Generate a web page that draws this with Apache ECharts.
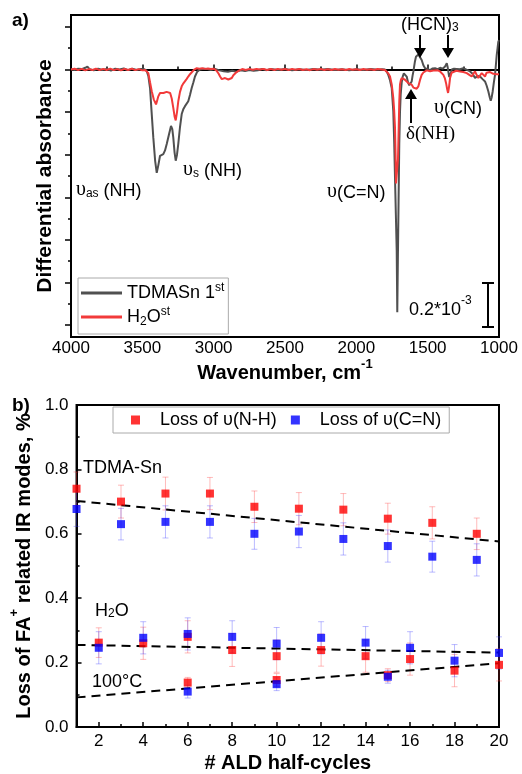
<!DOCTYPE html>
<html>
<head>
<meta charset="utf-8">
<script src="https://cdn.jsdelivr.net/npm/echarts@6/dist/echarts.min.js"></script>
<style>html,body{margin:0;padding:0;background:#fff;}#c{width:522px;height:774px;}</style>
</head>
<body>
<div id="c"></div>
<script>
// ---------- Panel a: spectra (wavenumber in cm-1, differential absorbance x1e-3) ----------
const tdmaWn = [4000,3975,3950,3925,3900,3885,3870,3840,3810,3780,3750,3720,3690,3660,3630,3600,3570,3540,3510,3485,3470,3458,3446,3435,3423,3410,3399,3388,3376,3365,3353,3341,3329,3315,3299,3290,3283,3274,3266,3257,3248,3236,3224,3212,3201,3190,3178,3166,3154,3142,3131,3115,3096,3070,3049,3020,2990,2960,2930,2900,2870,2840,2810,2780,2750,2720,2690,2660,2630,2600,2550,2500,2450,2400,2350,2300,2250,2200,2150,2100,2050,2000,1950,1900,1850,1820,1799,1787,1776,1764,1752,1741,1735,1729,1723,1717,1713,1709,1704,1699,1694,1689,1682,1675,1667,1659,1653,1647,1638,1629,1620,1612,1606,1600,1590,1582,1573,1565,1554,1542,1530,1518,1500,1483,1465,1448,1430,1413,1395,1378,1366,1360,1355,1349,1343,1337,1331,1315,1296,1275,1250,1225,1203,1185,1168,1150,1133,1115,1098,1087,1075,1065,1058,1051,1044,1036,1028,1022,1016,1010,1005,1000];
const tdmaAbs = [0.002,-0.003,0.004,0.002,0.008,0.014,0.002,-0.004,0.004,-0.002,0.003,-0.005,0.004,0.000,0.005,-0.003,0.004,-0.002,0.003,0.001,-0.005,-0.03,-0.087,-0.20,-0.320,-0.43,-0.485,-0.45,-0.405,-0.40,-0.397,-0.38,-0.350,-0.31,-0.265,-0.28,-0.320,-0.39,-0.428,-0.40,-0.349,-0.27,-0.209,-0.185,-0.172,-0.165,-0.149,-0.12,-0.087,-0.06,-0.033,-0.01,0,0.004,0.003,-0.002,0.003,-0.004,-0.008,-0.01,-0.006,-0.010,-0.004,-0.007,-0.002,-0.006,-0.003,0.002,-0.003,0.003,-0.002,0.002,-0.003,0.001,-0.002,0.002,-0.001,0.002,-0.002,0.001,-0.003,0.001,-0.002,0.002,-0.001,0.001,0,-0.01,-0.025,-0.05,-0.087,-0.195,-0.33,-0.506,-0.68,-0.85,-1.14,-0.90,-0.62,-0.349,-0.2,-0.116,-0.06,-0.033,-0.018,-0.014,-0.02,-0.033,-0.06,-0.074,-0.07,-0.056,-0.03,-0.009,0.035,0.060,0.068,0.071,0.062,0.045,0.02,0.006,0.002,-0.003,0.005,0.006,0.002,0.008,0.004,0.014,0.029,0.012,-0.01,-0.035,-0.040,-0.015,0.0,0.004,0.003,0.001,0.006,-0.002,-0.009,-0.02,-0.040,-0.03,-0.033,-0.045,-0.056,-0.075,-0.102,-0.13,-0.146,-0.13,-0.102,-0.06,-0.025,0.02,0.068,0.10,0.130,0.138];
const h2oWn = [4000,3975,3950,3925,3900,3875,3850,3825,3800,3775,3750,3725,3700,3675,3650,3625,3600,3575,3550,3525,3500,3480,3468,3458,3446,3434,3420,3404,3396,3388,3376,3364,3352,3341,3330,3318,3305,3294,3283,3274,3266,3257,3248,3236,3224,3212,3201,3190,3178,3166,3154,3136,3119,3100,3080,3060,3040,3020,3000,2980,2965,2955,2943,2932,2920,2909,2897,2885,2873,2862,2850,2839,2820,2800,2775,2750,2725,2700,2675,2650,2625,2600,2575,2550,2525,2500,2475,2450,2425,2400,2375,2350,2325,2300,2275,2250,2225,2200,2175,2150,2125,2100,2075,2050,2025,2000,1975,1950,1925,1900,1875,1850,1825,1800,1787,1776,1764,1752,1741,1735,1729,1725,1722,1717,1713,1708,1703,1699,1694,1688,1682,1670,1659,1648,1636,1624,1612,1600,1589,1577,1565,1554,1542,1530,1518,1507,1495,1483,1471,1460,1448,1430,1413,1400,1390,1380,1371,1364,1357,1350,1343,1332,1320,1300,1273,1250,1226,1208,1191,1180,1168,1157,1145,1133,1121,1110,1098,1087,1075,1063,1051,1040,1028,1016,1005,1000];
const h2oAbs = [0.0,0.004,-0.003,0.003,-0.004,0.002,-0.002,0.004,-0.003,0.003,-0.002,0.004,-0.003,0.002,-0.004,0.003,-0.002,0.004,-0.003,0.002,-0.004,-0.002,-0.008,-0.017,-0.06,-0.102,-0.14,-0.164,-0.145,-0.126,-0.11,-0.102,-0.11,-0.115,-0.105,-0.102,-0.11,-0.136,-0.180,-0.22,-0.239,-0.2,-0.149,-0.105,-0.079,-0.065,-0.056,-0.045,-0.033,-0.022,-0.013,0.0,0.006,0.004,0.006,0.003,0.005,0.002,0.004,-0.005,-0.02,-0.033,-0.045,-0.048,-0.04,-0.037,-0.047,-0.052,-0.04,-0.027,-0.018,-0.012,-0.004,0.002,-0.002,0.003,-0.001,0.003,0.0,0.003,-0.002,0.002,-0.002,0.003,-0.001,0.002,-0.002,0.003,-0.001,0.002,-0.002,0.001,-0.003,0.002,-0.001,0.002,-0.002,0.001,-0.002,0.002,-0.001,0.001,-0.002,0.002,-0.001,0.001,-0.002,0.002,-0.001,0.001,-0.002,0.002,0.0,-0.002,-0.009,-0.018,-0.033,-0.07,-0.133,-0.19,-0.273,-0.40,-0.535,-0.544,-0.544,-0.42,-0.273,-0.15,-0.070,-0.05,-0.040,-0.045,-0.048,-0.055,-0.064,-0.068,-0.071,-0.085,-0.094,-0.09,-0.079,-0.05,-0.025,-0.014,-0.009,-0.004,0.0,-0.008,-0.014,-0.005,0.0,-0.004,-0.009,-0.015,-0.025,-0.04,-0.064,-0.09,-0.110,-0.08,-0.040,-0.015,-0.009,-0.006,-0.009,-0.012,-0.017,-0.025,-0.033,-0.02,-0.009,-0.025,-0.040,-0.028,-0.017,-0.025,-0.033,-0.015,-0.006,-0.012,-0.017,-0.02,-0.025,-0.022,-0.025,-0.022];
const wnTicks = [4000,3500,3000,2500,2000,1500,1000];
const absMajorTicks = [-1.2,-1.0,-0.8,-0.6,-0.4,-0.2,0,0.2];
const absMinorTicks = [-1.1,-0.9,-0.7,-0.5,-0.3,-0.1,0.1];

// ---------- Panel b: loss vs ALD half-cycles ----------
const cyclesTdma = [1,3,5,7,9,11,13,15,17,19];
const nhTdma = [0.740,0.700,0.725,0.725,0.684,0.678,0.675,0.647,0.634,0.600];
const nhTdmaErr = [0.052,0.051,0.051,0.050,0.049,0.050,0.050,0.048,0.050,0.049];
const cnTdma = [0.677,0.630,0.637,0.637,0.600,0.607,0.584,0.562,0.529,0.519];
const cnTdmaErr = [0.054,0.049,0.050,0.050,0.048,0.050,0.050,0.050,0.048,0.050];
const cyclesH2o = [2,4,6,8,10,12,14,16,18,20];
const nhH2o = [0.262,0.260,0.280,0.239,0.220,0.239,0.220,0.211,0.175,0.193];
const nhH2oErr = [0.046,0.050,0.050,0.051,0.050,0.050,0.050,0.050,0.050,0.050];
const cnH2o = [0.246,0.277,0.289,0.280,0.259,0.277,0.262,0.246,0.206,0.230];
const cnH2oErr = [0.050,0.050,0.050,0.050,0.050,0.050,0.050,0.050,0.050,0.050];
const cycles100 = [6,10,15];
const nh100 = [0.138,0.146,0.161];
const nh100Err = [0.016,0.020,0.020];
const cn100 = [0.110,0.133,0.156];
const cn100Err = [0.020,0.020,0.020];
const fitX = [1,20];
const fitTdma = [0.702,0.576];
const fitH2o = [0.255,0.231];
const fit100 = [0.092,0.198];
const cycleLabels = [2,4,6,8,10,12,14,16,18,20];
const cycleMinor = [3,5,7,9,11,13,15,17,19];

const F = '"Liberation Sans", Arial, sans-serif';
const FS = '"Liberation Serif", "Times New Roman", serif';
const zip = (a, b) => a.map((v, i) => [v, b[i]]);
const zip3 = (a, b, c) => a.map((v, i) => [v, b[i], c[i]]);

function errBar(color) {
  return function (params, api) {
    const x = api.value(0), y = api.value(1), e = api.value(2);
    const t = api.coord([x, y + e]), b = api.coord([x, y - e]);
    const w = 3;
    const st = { stroke: color, lineWidth: 1 };
    return { type: 'group', children: [
      { type: 'line', shape: { x1: t[0], y1: t[1], x2: b[0], y2: b[1] }, style: st },
      { type: 'line', shape: { x1: t[0] - w, y1: t[1], x2: t[0] + w, y2: t[1] }, style: st },
      { type: 'line', shape: { x1: b[0] - w, y1: b[1], x2: b[0] + w, y2: b[1] }, style: st }
    ]};
  };
}
const RED = '#ff0000', BLUE = '#0000ff';
const RED_E = 'rgba(255,60,60,0.35)', BLUE_E = 'rgba(60,60,255,0.35)';

function errSeries(x, y, e, color) {
  return { type: 'custom', xAxisIndex: 1, yAxisIndex: 2, renderItem: errBar(color), data: zip3(x, y, e), encode: { x: 0, y: 1 }, z: 2, silent: true };
}
function ptSeries(name, x, y, color) {
  return { name: name, type: 'scatter', xAxisIndex: 1, yAxisIndex: 2, symbol: 'rect', symbolSize: 8, itemStyle: { color: color }, data: zip(x, y), z: 4 };
}
function fitSeries(y) {
  return { type: 'line', xAxisIndex: 1, yAxisIndex: 2, symbol: 'none', silent: true, lineStyle: { color: '#000', width: 2, type: [9, 6] }, data: zip(fitX, y), z: 3 };
}

const axisLineStyle = { lineStyle: { color: '#000', width: 2 } };
const lbl = { color: '#000', fontFamily: F, fontSize: 17 };
const titleStyle = (extra) => Object.assign({ color: '#000', fontFamily: F, fontSize: 20, fontWeight: 'bold' }, extra || {});

const option = {
  animation: false,
  backgroundColor: '#fff',
  grid: [
    { left: 71, top: 15, width: 428, height: 322, show: true, borderColor: '#000', borderWidth: 2, backgroundColor: 'transparent' },
    { left: 71, top: 405, width: 428, height: 322, show: true, borderColor: '#000', borderWidth: 2, backgroundColor: 'transparent' }
  ],
  xAxis: [
    { type: 'value', gridIndex: 0, min: 1000, max: 4000, interval: 500, inverse: true,
      axisLine: axisLineStyle, splitLine: { show: false },
      axisTick: { inside: true, length: 5, lineStyle: { color: '#000', width: 1.5 } },
      minorTick: { show: true, splitNumber: 2, length: 3, lineStyle: { color: '#000', width: 1.5 } },
      axisLabel: Object.assign({ margin: 3, showMinLabel: true, showMaxLabel: true, formatter: v => String(v) }, lbl),
      name: '{t|Wavenumber, cm}{s|-1}', nameLocation: 'middle', nameGap: 19,
      nameTextStyle: titleStyle({ rich: {
        t: titleStyle({ lineHeight: 26, verticalAlign: 'bottom' }),
        s: titleStyle({ fontSize: 13, lineHeight: 22, verticalAlign: 'top' }) } }) },
    { type: 'value', gridIndex: 1, min: 1, max: 20,
      axisLine: axisLineStyle, splitLine: { show: false },
      axisTick: { inside: true, length: 5, customValues: cycleLabels, lineStyle: { color: '#000', width: 1.5 } },
      axisLabel: Object.assign({ margin: 6, customValues: cycleLabels }, lbl),
      name: '# ALD half-cycles', nameLocation: 'middle', nameGap: 26, nameTextStyle: titleStyle() },
    { type: 'value', gridIndex: 1, min: 1, max: 20, position: 'bottom',
      axisLine: { show: false }, splitLine: { show: false }, axisLabel: { show: false },
      axisTick: { inside: true, length: 3, customValues: cycleMinor, lineStyle: { color: '#000', width: 1.5 } } }
  ],
  yAxis: [
    { type: 'value', gridIndex: 0, min: -1.256, max: 0.256, position: 'left',
      axisLine: axisLineStyle, splitLine: { show: false }, axisLabel: { show: false },
      axisTick: { inside: false, length: 6, customValues: absMajorTicks, lineStyle: { color: '#000', width: 1.5 } },
      name: 'Differential absorbance', nameLocation: 'middle', nameGap: 15, nameRotate: 90, nameTextStyle: titleStyle({ fontSize: 21 }) },
    { type: 'value', gridIndex: 0, min: -1.256, max: 0.256, position: 'left', offset: 0,
      axisLine: { show: false }, splitLine: { show: false }, axisLabel: { show: false },
      axisTick: { inside: false, length: 3, customValues: absMinorTicks, lineStyle: { color: '#000', width: 1.5 } } },
    { type: 'value', gridIndex: 1, min: 0, max: 1, interval: 0.2, position: 'left',
      axisLine: axisLineStyle, splitLine: { show: false },
      axisTick: { inside: true, length: 5, lineStyle: { color: '#000', width: 1.5 } },
      minorTick: { show: true, splitNumber: 2, length: 3, lineStyle: { color: '#000', width: 1.5 } },
      axisLabel: Object.assign({ margin: 8, formatter: v => v.toFixed(1) }, lbl),
      name: '{t|Loss of FA}{s|+}{t| related IR modes, %}', nameLocation: 'middle', nameGap: 38, nameRotate: 90,
      nameTextStyle: titleStyle({ rich: {
        t: titleStyle({ lineHeight: 26, verticalAlign: 'bottom' }),
        s: titleStyle({ fontSize: 13, lineHeight: 24, verticalAlign: 'top' }) } }) }
  ],
  legend: [
    { data: ['TDMASn 1st', 'H2Ost'], orient: 'vertical', left: 78, top: 278,
      padding: [4, 4, 6, 3], itemGap: 4, itemWidth: 41, itemHeight: 3, icon: 'rect',
      borderColor: '#aaaaaa', borderWidth: 1, backgroundColor: '#fff',
      formatter: n => n === 'TDMASn 1st' ? '{t|TDMASn 1}{p|st}' : '{t|H}{b|2}{t|O}{p|st}',
      textStyle: { color: '#000', fontFamily: F, fontSize: 18, rich: {
        t: { color: '#000', fontFamily: F, fontSize: 18, lineHeight: 22, verticalAlign: 'middle' },
        p: { color: '#000', fontFamily: F, fontSize: 12, lineHeight: 20, verticalAlign: 'top' },
        b: { color: '#000', fontFamily: F, fontSize: 12, lineHeight: 12, verticalAlign: 'bottom' } } } },
    { data: ['Loss of υ(N-H)', 'Loss of υ(C=N)'], orient: 'horizontal', left: 113, top: 407,
      padding: [4, 8, 4, 18], itemGap: 14, itemWidth: 9, itemHeight: 9, icon: 'rect',
      borderColor: '#aaaaaa', borderWidth: 1, backgroundColor: '#fff',
      formatter: n => '{t|' + n + '}',
      textStyle: { color: '#000', fontFamily: F, fontSize: 18, rich: {
        t: { color: '#000', fontFamily: F, fontSize: 18, padding: [0, 0, 0, 15] } } } }
  ],
  series: [
    { name: 'TDMASn 1st', type: 'line', xAxisIndex: 0, yAxisIndex: 0, symbol: 'none', showSymbol: false,
      lineStyle: { color: '#505050', width: 2 }, itemStyle: { color: '#505050' }, data: zip(tdmaWn, tdmaAbs), z: 2 },
    { name: 'H2Ost', type: 'line', xAxisIndex: 0, yAxisIndex: 0, symbol: 'none', showSymbol: false,
      lineStyle: { color: '#f23a3a', width: 2 }, itemStyle: { color: '#f23a3a' }, data: zip(h2oWn, h2oAbs), z: 3 },
    errSeries(cyclesTdma, nhTdma, nhTdmaErr, RED_E),
    errSeries(cyclesTdma, cnTdma, cnTdmaErr, BLUE_E),
    errSeries(cyclesH2o, nhH2o, nhH2oErr, RED_E),
    errSeries(cyclesH2o, cnH2o, cnH2oErr, BLUE_E),
    errSeries(cycles100, nh100, nh100Err, RED_E),
    errSeries(cycles100, cn100, cn100Err, BLUE_E),
    fitSeries(fitTdma), fitSeries(fitH2o), fitSeries(fit100),
    ptSeries('Loss of υ(N-H)', cyclesTdma, nhTdma, RED),
    ptSeries('Loss of υ(C=N)', cyclesTdma, cnTdma, BLUE),
    ptSeries('Loss of υ(N-H)', cyclesH2o, nhH2o, RED),
    ptSeries('Loss of υ(C=N)', cyclesH2o, cnH2o, BLUE),
    ptSeries('Loss of υ(N-H)', cycles100, nh100, RED),
    ptSeries('Loss of υ(C=N)', cycles100, cn100, BLUE)
  ]
};

// annotation text styles
const base = { fill: '#000', fontFamily: F, fontSize: 18 };
const rich = {
  u: { fill: '#000', fontFamily: FS, fontSize: 20, lineHeight: 24, verticalAlign: 'bottom' },
  t: { fill: '#000', fontFamily: F, fontSize: 18, lineHeight: 24, verticalAlign: 'bottom' },
  r: { fill: '#000', fontFamily: FS, fontSize: 19, lineHeight: 24, verticalAlign: 'bottom' },
  sub: { fill: '#000', fontFamily: F, fontSize: 12, lineHeight: 13, verticalAlign: 'bottom' },
  sup: { fill: '#000', fontFamily: F, fontSize: 12, lineHeight: 14, verticalAlign: 'top' }
};
function txt(x, y, text) {
  return { type: 'text', left: x, top: y, z: 10, style: Object.assign({}, base, { text: text, rich: rich }) };
}
function arrowDown(x, y1, y2) {
  return [
    { type: 'line', z: 10, shape: { x1: x, y1: y1, x2: x, y2: y2 - 8 }, style: { stroke: '#000', lineWidth: 2 } },
    { type: 'polygon', z: 10, shape: { points: [[x - 6, y2 - 10], [x + 6, y2 - 10], [x, y2]] }, style: { fill: '#000' } }
  ];
}
function arrowUp(x, y1, y2) {
  return [
    { type: 'line', z: 10, shape: { x1: x, y1: y1, x2: x, y2: y2 + 8 }, style: { stroke: '#000', lineWidth: 2 } },
    { type: 'polygon', z: 10, shape: { points: [[x - 6, y2 + 10], [x + 6, y2 + 10], [x, y2]] }, style: { fill: '#000' } }
  ];
}
option.graphic = [
  { type: 'text', left: 12, top: 11, style: { text: 'a)', fill: '#000', fontFamily: F, fontSize: 19, fontWeight: 'bold' } },
  { type: 'text', left: 12, top: 396, style: { text: 'b)', fill: '#000', fontFamily: F, fontSize: 19, fontWeight: 'bold' } },
  txt(76, 180, '{u|υ}{sub|as}{t| (NH)}'),
  txt(183, 160, '{u|υ}{sub|s}{t| (NH)}'),
  txt(327, 182, '{u|υ}{t|(C=N)}'),
  txt(406, 125, '{r|δ(NH)}'),
  txt(434, 98, '{u|υ}{t|(CN)}'),
  txt(401, 16, '{t|(HCN)}{sub|3}'),
  txt(409, 295, '{t|0.2*10}{sup|-3}'),
  ...arrowDown(420, 35, 58),
  ...arrowDown(448, 35, 58),
  ...arrowUp(411, 123, 89),
  { type: 'line', z: 10, shape: { x1: 488, y1: 283, x2: 488, y2: 327 }, style: { stroke: '#000', lineWidth: 2 } },
  { type: 'line', z: 10, shape: { x1: 482, y1: 283, x2: 494, y2: 283 }, style: { stroke: '#000', lineWidth: 2 } },
  { type: 'line', z: 10, shape: { x1: 482, y1: 327, x2: 494, y2: 327 }, style: { stroke: '#000', lineWidth: 2 } },
  txt(83, 459, '{t|TDMA-Sn}'),
  txt(95, 602, '{t|H}{sub|2}{t|O}'),
  txt(92, 673, '{t|100°C}')
];

const chart = echarts.init(document.getElementById('c'), null, { renderer: 'canvas' });
chart.setOption(option);
</script>
</body>
</html>
